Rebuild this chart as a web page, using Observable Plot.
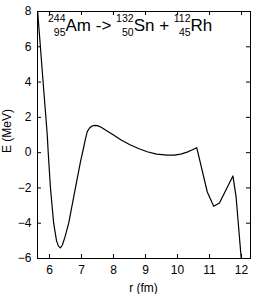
<!DOCTYPE html>
<html><head><meta charset="utf-8">
<script src="https://cdn.jsdelivr.net/npm/d3@7"></script>
<script src="https://cdn.jsdelivr.net/npm/@observablehq/plot@0.6"></script>
<style>body{margin:0;background:#fff} svg{display:block}</style>
</head><body><div id="chart"></div>
<script>
// r (fm) and E (MeV)
const rValues = [5.63, 5.80, 5.93, 5.96, 6.03, 6.13, 6.22, 6.28, 6.34, 6.40, 6.48, 6.60, 6.81, 6.97, 7.05, 7.12, 7.18, 7.25, 7.32, 7.40, 7.49, 7.60, 7.75, 8.00, 8.25, 8.53, 8.80, 9.05, 9.35, 9.68, 9.90, 10.10, 10.30, 10.45, 10.60, 10.93, 11.13, 11.31, 11.73, 11.83, 11.99];
const eValues = [8.00, 4.00, 1.00, 0.00, -2.00, -4.00, -5.00, -5.30, -5.40, -5.25, -4.80, -4.00, -2.00, -0.50, 0.15, 0.75, 1.19, 1.40, 1.50, 1.54, 1.53, 1.45, 1.28, 1.00, 0.70, 0.43, 0.22, 0.05, -0.08, -0.14, -0.14, -0.08, 0.03, 0.15, 0.28, -2.23, -3.04, -2.85, -1.32, -2.51, -6.00];
const xTicks = [6, 7, 8, 9, 10, 11, 12];
const yTicks = [-6, -4, -2, 0, 2, 4, 6, 8];
const xLabel = "r (fm)";
const yLabel = "E (MeV)";
// reaction annotation: nuclides and operators
const massNumbers = ["244", "132", "112"];
const chargeNumbers = ["95", "50", "45"];
const symbols = ["Am", "Sn", "Rh"];
const operators = [" -> ", " + ", ""];

const data = rValues.map((r, i) => ({r, E: eValues[i]}));

const W = 259, H = 294, mL = 37, mR = 9, mT = 11, mB = 36;
const fw = W - mL - mR, fh = H - mT - mB, tick = 4;
const font = "'Liberation Sans', Arial, sans-serif";

const plot = Plot.plot({
  width: W, height: H,
  marginLeft: mL, marginRight: mR, marginTop: mT, marginBottom: mB,
  style: {fontFamily: font, fontSize: "12px", background: "white", color: "black"},
  x: {domain: [5.625, 12.28], ticks: xTicks, tickFormat: d => String(d), tickSize: 0, tickPadding: 7, label: null},
  y: {domain: [-6, 8], ticks: yTicks, tickFormat: d => (d < 0 ? "\u2212" + (-d) : String(d)), tickSize: 0, tickPadding: 6, label: null},
  marks: [
    Plot.frame({stroke: "black"}),
    Plot.ruleX(xTicks, {x: d => d, insetTop: fh - tick, stroke: "black"}),
    Plot.ruleX(xTicks, {x: d => d, insetBottom: fh - tick, stroke: "black"}),
    Plot.ruleY(yTicks, {y: d => d, insetRight: fw - tick, stroke: "black"}),
    Plot.ruleY(yTicks, {y: d => d, insetLeft: fw - tick, stroke: "black"}),
    Plot.line(data, {x: "r", y: "E", stroke: "black", strokeWidth: 1.2, clip: true})
  ]
});
document.getElementById("chart").appendChild(plot);

const svg = d3.select(plot);
svg.append("text").attr("x", mL + fw / 2).attr("y", 292).attr("text-anchor", "middle")
  .attr("font-family", font).attr("font-size", 12).attr("fill", "black").text(xLabel);
svg.append("text").attr("transform", `translate(11,131) rotate(-90)`).attr("text-anchor", "middle")
  .attr("font-family", font).attr("font-size", 12).attr("fill", "black").text(yLabel);

// reaction text with nuclear notation (one text element, flowing tspans)
const bigSize = 17, smallSize = 10.5, supY = 22, mainY = 31, subY = 36;
const digitW = 0.556 * smallSize;
const t = svg.append("text").attr("x", 48).attr("y", mainY)
  .attr("font-family", font).attr("font-size", bigSize).attr("fill", "black")
  .attr("text-anchor", "start").style("white-space", "pre");
symbols.forEach((sym, i) => {
  const supW = massNumbers[i].length * digitW;
  const subW = chargeNumbers[i].length * digitW;
  t.append("tspan").attr("y", supY).attr("font-size", smallSize).text(massNumbers[i]);
  t.append("tspan").attr("y", subY).attr("dx", -subW).attr("font-size", smallSize).text(chargeNumbers[i]);
  t.append("tspan").attr("y", mainY).attr("font-size", bigSize).text(sym + operators[i]);
});
</script>
</body></html>
